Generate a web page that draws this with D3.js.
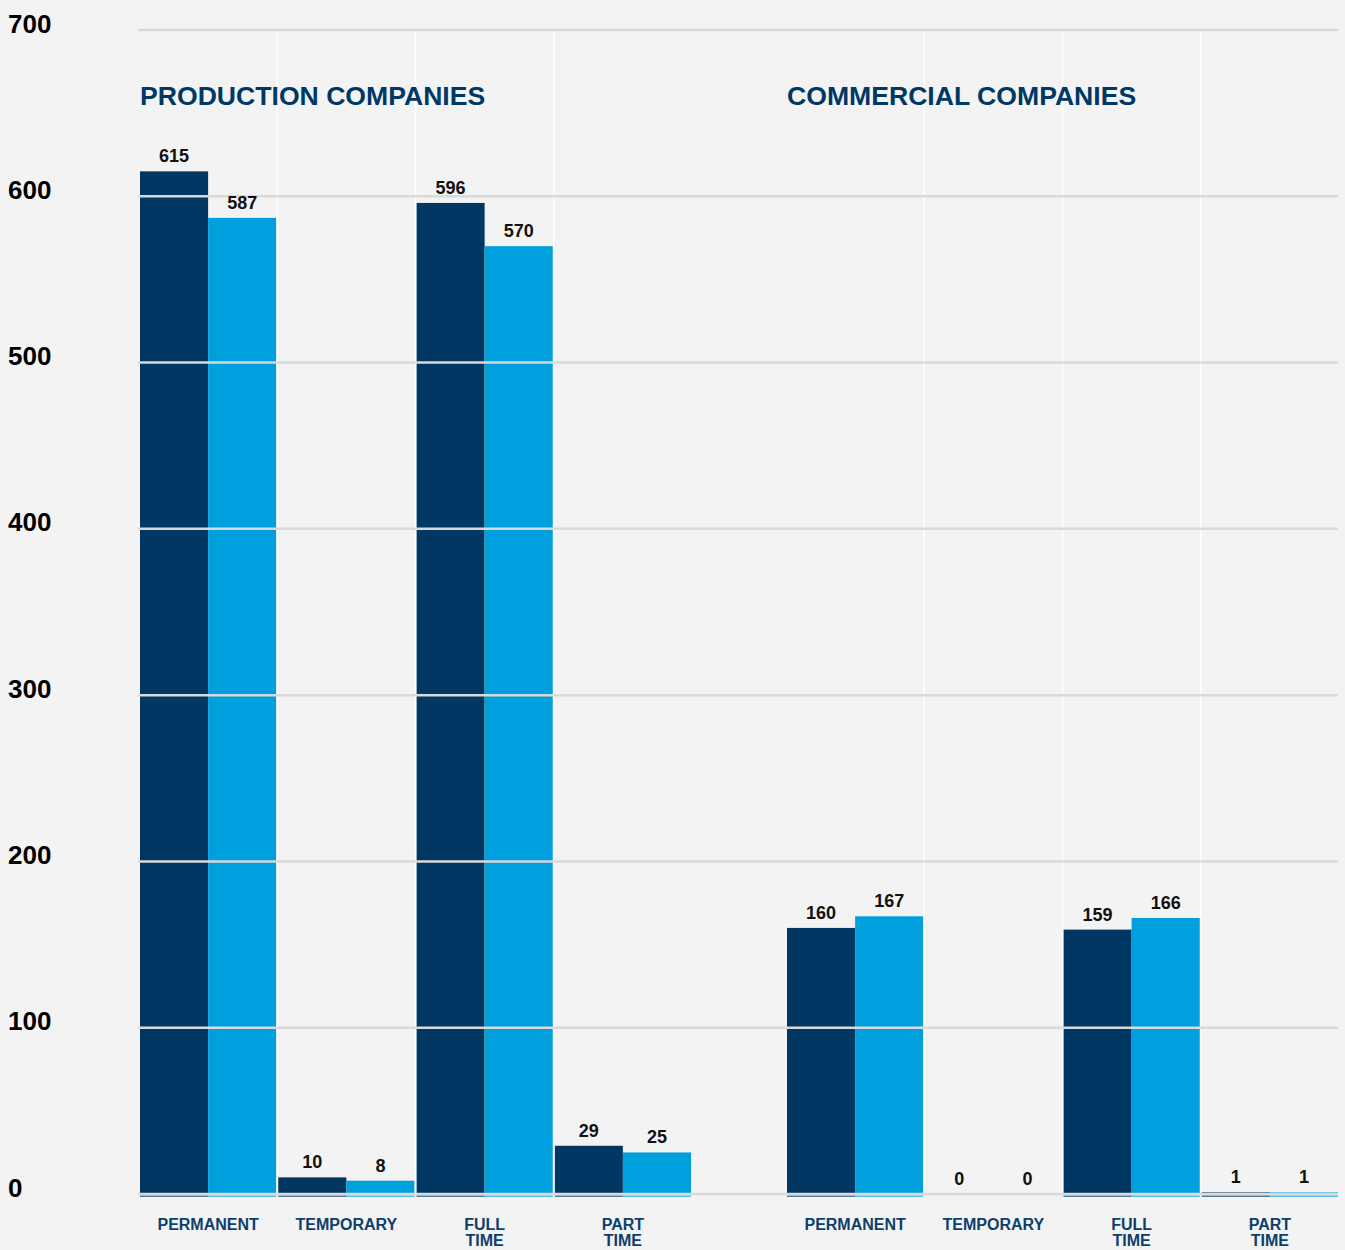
<!DOCTYPE html>
<html>
<head>
<meta charset="utf-8">
<script src="https://cdn.jsdelivr.net/npm/d3@7"></script>
<style>
  html, body { margin: 0; padding: 0; background: #f3f3f3; }
  svg { display: block; font-family: "Liberation Sans", Arial, sans-serif; }
</style>
</head>
<body>
<svg id="chart" width="1345" height="1250"></svg>
<script>
// ---- data ----
const groupTitles = ["PRODUCTION COMPANIES", "COMMERCIAL COMPANIES"];
const categories = ["PERMANENT", "TEMPORARY", "FULL TIME", "PART TIME"];
const categoryLabelLines = [["PERMANENT"], ["TEMPORARY"], ["FULL", "TIME"], ["PART", "TIME"]];
const productionSeriesA = [615, 10, 596, 29];
const productionSeriesB = [587, 8, 570, 25];
const commercialSeriesA = [160, 0, 159, 1];
const commercialSeriesB = [167, 0, 166, 1];
const yTickValues = [0, 100, 200, 300, 400, 500, 600, 700];

// ---- styles ----
const colorA = "#003763";
const colorB = "#00a0df";
const titleColor = "#003865";
const catColor = "#0d3f6c";
const gridColor = "#dadada";

const svg = d3.select("#chart");

const y = d3.scaleLinear().domain([0, 700]).range([1194, 30]);

const groupRanges = [[139, 692], [786, 1339]];
const groupData = [
  { title: groupTitles[0], a: productionSeriesA, b: productionSeriesB },
  { title: groupTitles[1], a: commercialSeriesA, b: commercialSeriesB }
];

const barsG = svg.append("g");
const overG = svg.append("g");
const textG = svg.append("g");

groupData.forEach((g, gi) => {
  const x = d3.scaleBand().domain(categories).range(groupRanges[gi]).paddingInner(0).paddingOuter(0);
  const rows = categories.map((c, i) => ({ c, i, a: g.a[i], b: g.b[i] }));

  rows.forEach(r => {
    const x0 = x(r.c), bw = x.bandwidth(), mid = x0 + bw / 2;
    const specs = [
      { v: r.a, x1: x0 + 1, x2: mid, color: colorA },
      { v: r.b, x1: mid, x2: x0 + bw - 1, color: colorB }
    ];
    specs.forEach(s => {
      barsG.append("rect")
        .attr("x", s.x1).attr("width", s.x2 - s.x1)
        .attr("y", y(s.v)).attr("height", y(0) - y(s.v))
        .attr("fill", s.color);
      if (s.v > 0) {
        barsG.append("rect")
          .attr("x", s.x1).attr("width", s.x2 - s.x1)
          .attr("y", y(0) + 1.5).attr("height", 1.3)
          .attr("fill", s.color).attr("opacity", 0.8);
      }
      textG.append("text")
        .attr("x", (s.x1 + s.x2) / 2)
        .attr("y", y(s.v) - 9)
        .attr("text-anchor", "middle")
        .attr("font-size", 18).attr("font-weight", "bold")
        .attr("fill", "#111")
        .text(s.v);
    });

    categoryLabelLines[r.i].forEach((line, li) => {
      textG.append("text")
        .attr("x", x0 + bw / 2)
        .attr("y", 1230 + li * 16)
        .attr("text-anchor", "middle")
        .attr("font-size", 16).attr("font-weight", "bold")
        .attr("fill", catColor)
        .text(line);
    });
  });

  categories.slice(1).forEach(c => {
    overG.append("line")
      .attr("x1", x(c)).attr("x2", x(c))
      .attr("y1", y(700) + 2).attr("y2", y(0))
      .attr("stroke", "#ffffff").attr("stroke-width", 1.5);
  });

  textG.append("text")
    .attr("x", groupRanges[gi][0] + 1)
    .attr("y", 105)
    .attr("font-size", 26.6).attr("font-weight", "bold")
    .attr("fill", titleColor)
    .text(g.title);
});

yTickValues.forEach(t => {
  overG.append("line")
    .attr("x1", 138).attr("x2", 1338)
    .attr("y1", y(t)).attr("y2", y(t))
    .attr("stroke", gridColor).attr("stroke-width", 2.5);
});

const yAxis = d3.axisLeft(y).tickValues(yTickValues).tickSize(0).tickFormat(d3.format("d"));
const axisG = svg.append("g").attr("transform", "translate(8,0)").call(yAxis);
axisG.select(".domain").remove();
axisG.selectAll(".tick text")
  .attr("x", 0).attr("dy", null).attr("y", 2)
  .attr("text-anchor", "start")
  .attr("font-family", "Liberation Sans, Arial, sans-serif")
  .attr("font-size", 26).attr("font-weight", "bold")
  .attr("fill", "#000");
</script>
</body>
</html>
